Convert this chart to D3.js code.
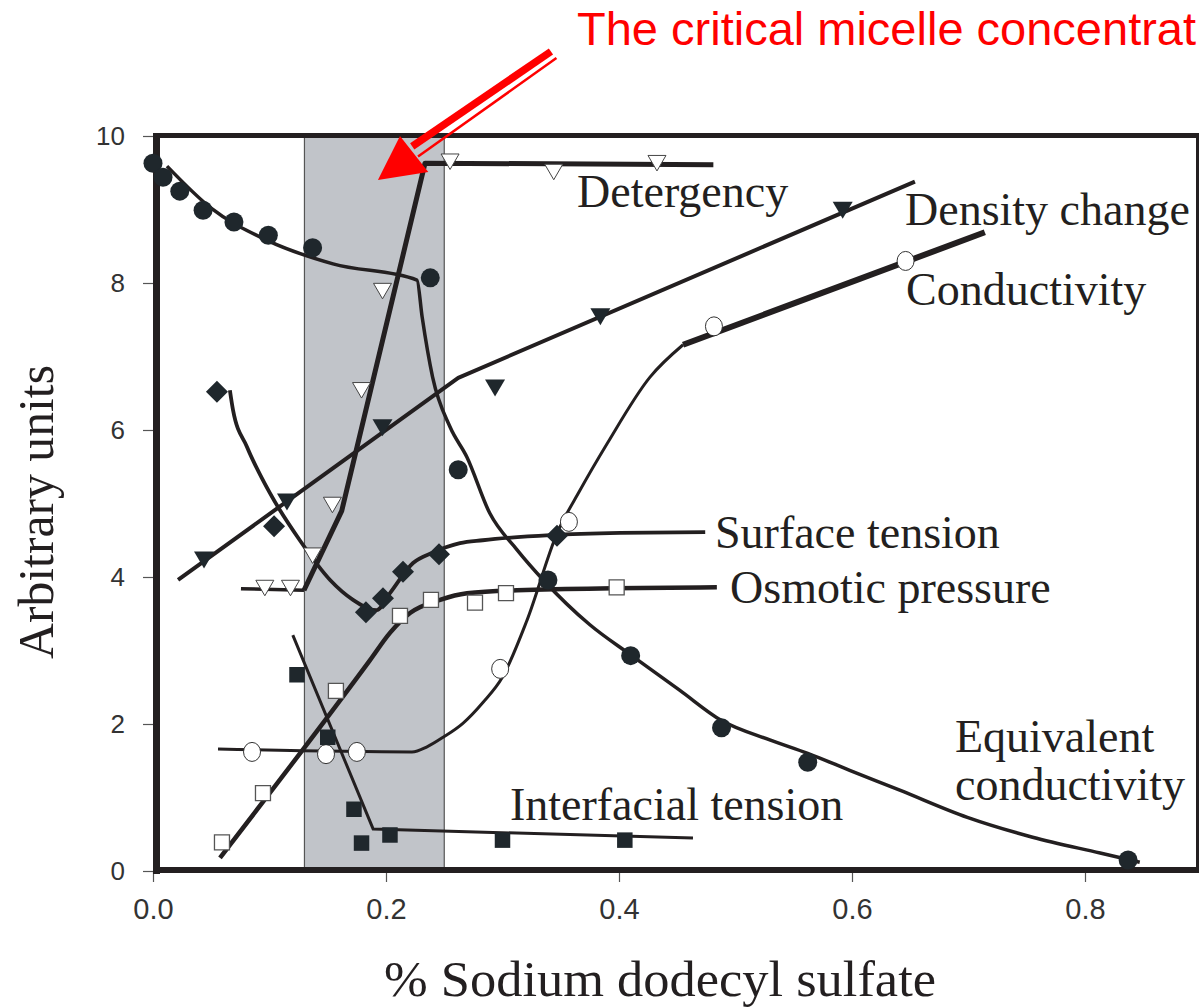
<!DOCTYPE html>
<html><head><meta charset="utf-8">
<script src="https://cdn.jsdelivr.net/npm/d3@7"></script>
<style>html,body{margin:0;padding:0;background:#fff;overflow:hidden}</style>
</head><body><svg id="c" width="1201" height="1008"></svg>
<script>
// ---------- data ----------
const xTicks = [0, 0.2, 0.4, 0.6, 0.8];
const yTicks = [0, 2, 4, 6, 8, 10];
const cmcBand = [0.13, 0.25];

const eqCondPts = [[0,9.63],[0.0086,9.44],[0.023,9.25],[0.043,8.99],[0.0695,8.83],[0.099,8.65],[0.137,8.48],[0.238,8.07],[0.262,5.46],[0.339,3.96],[0.41,2.93],[0.488,1.95],[0.562,1.48],[0.837,0.15]];
const eqCondLine = [[0.012,9.59],[0.049,9.03],[0.098,8.58],[0.1545,8.26],[0.2266,8.04],[0.231,7.54],[0.240,6.72],[0.255,6.04],[0.2695,5.63],[0.289,4.87],[0.3125,4.37],[0.335,3.96],[0.375,3.35],[0.41,2.94],[0.452,2.46],[0.4876,2.05],[0.53,1.78],[0.562,1.6],[0.598,1.37],[0.641,1.10],[0.699,0.73],[0.755,0.46],[0.813,0.245],[0.847,0.12]];

const densPts = [[0.0438,4.23],[0.115,5.02],[0.197,6.03],[0.2936,6.57],[0.384,7.54],[0.592,8.99]];
const densLine = [[0.0215,3.96],[0.262,6.71],[0.654,9.38]];

const condPts = [[0.085,1.62],[0.1485,1.59],[0.175,1.62],[0.298,2.75],[0.357,4.75],[0.4815,7.41],[0.646,8.30]];
const condLine = [[0.0558,1.66],[0.2223,1.62],[0.2352,1.69],[0.249,1.82],[0.266,2.01],[0.283,2.29],[0.300,2.64],[0.321,3.41],[0.347,4.60],[0.3665,5.18],[0.390,5.82],[0.4266,6.72],[0.455,7.16]];
const condLineHigh = [[0.455,7.16],[0.714,8.69]];

const detPts = [[0.096,3.85],[0.118,3.85],[0.137,4.29],[0.154,4.98],[0.179,6.54],[0.197,7.89],[0.255,9.65],[0.344,9.51],[0.4326,9.63]];
const detLineFlat = [[0.0755,3.84],[0.1296,3.82]];
const detLine = [[0.1296,3.82],[0.162,4.9],[0.2335,9.63],[0.481,9.61]];

const stPts = [[0.0549,6.52],[0.1039,4.69],[0.1828,3.52],[0.1974,3.71],[0.2146,4.07],[0.2455,4.31],[0.3468,4.56]];
const stLine = [[0.066,6.54],[0.0687,6.27],[0.0807,5.77],[0.1004,5.14],[0.126,4.50],[0.152,3.96],[0.1717,3.69],[0.192,3.55],[0.2034,3.78],[0.2232,4.19],[0.240,4.33],[0.2635,4.46],[0.283,4.50],[0.341,4.57],[0.401,4.60],[0.474,4.61]];

const opPts = [[0.0592,0.39],[0.0944,1.06],[0.157,2.45],[0.212,3.47],[0.2386,3.69],[0.2764,3.65],[0.303,3.78],[0.398,3.86]];
const opLine = [[0.0575,0.18],[0.1863,2.87],[0.2034,3.24],[0.2206,3.51],[0.2464,3.69],[0.2695,3.78],[0.3124,3.82],[0.484,3.86]];

const itPts = [[0.1236,2.67],[0.150,1.82],[0.1725,0.84],[0.179,0.38],[0.2034,0.49],[0.300,0.42],[0.405,0.42]];
const itLine = [[0.120,3.21],[0.189,0.57],[0.4635,0.45]];

const seriesLabels = ["Detergency","Density change","Conductivity","Surface tension","Osmotic pressure","Equivalent","conductivity","Interfacial tension"];
const labelAnchors = [[0.364,9.03],[0.6455,8.79],[0.6464,7.70],[0.4824,4.39],[0.4953,3.65],[0.6884,1.62],[0.6884,0.97],[0.3064,0.69]];

const titleText = "The critical micelle concentrat";
const xTitle = "% Sodium dodecyl sulfate";
const yTitle = "Arbitrary units";

// ---------- drawing ----------
const svg = d3.select("#c");
const x = d3.scaleLinear().domain([0, 0.8]).range([153, 1085]);
const y = d3.scaleLinear().domain([0, 10]).range([871, 136]);
const ink = "#231f20";
const markFill = "#1f272c";
const serif = "'Liberation Serif','Times New Roman',serif";
const sans = "'Liberation Sans',Arial,sans-serif";

// band
svg.append("rect")
  .attr("x", x(cmcBand[0])).attr("y", y(10))
  .attr("width", x(cmcBand[1]) - x(cmcBand[0])).attr("height", y(0) - y(10))
  .attr("fill", "#c1c4c9").attr("stroke", "#555").attr("stroke-width", 1.2);

// axes
const yAx = svg.append("g").attr("transform", "translate(157,0)")
  .call(d3.axisLeft(y).tickValues(yTicks).tickSize(14).tickPadding(18).tickFormat(d3.format("d")));
const xAx = svg.append("g").attr("transform", "translate(0,872)")
  .call(d3.axisBottom(x).tickValues(xTicks).tickSize(10).tickPadding(16).tickFormat(d3.format(".1f")));
[yAx, xAx].forEach(g => {
  g.select(".domain").remove();
  g.selectAll(".tick line").attr("stroke", "#555").attr("stroke-width", 1.2);
  g.selectAll(".tick text").attr("fill", "#333").style("font-family", sans);
});
yAx.selectAll(".tick text").style("font-size", "26px");
xAx.selectAll(".tick text").style("font-size", "29px");

// frame
const fr = svg.append("g").attr("stroke", ink).attr("fill", "none");
fr.append("line").attr("x1", 153).attr("x2", 1199).attr("y1", 135.5).attr("y2", 135.5).attr("stroke-width", 5);
fr.append("line").attr("x1", 156.5).attr("x2", 156.5).attr("y1", 133).attr("y2", 874).attr("stroke-width", 7);
fr.append("line").attr("x1", 153).attr("x2", 1199).attr("y1", 870).attr("y2", 870).attr("stroke-width", 6);
fr.append("line").attr("x1", 1197.5).attr("x2", 1197.5).attr("y1", 133).attr("y2", 873).attr("stroke-width", 3);

// lines
const lin = d3.line().x(d => x(d[0])).y(d => y(d[1]));
const smooth = d3.line().x(d => x(d[0])).y(d => y(d[1])).curve(d3.curveMonotoneX);
function path(data, gen, w) {
  svg.append("path").datum(data).attr("d", gen).attr("fill", "none")
    .attr("stroke", ink).attr("stroke-width", w).attr("stroke-linejoin", "round");
}
path(eqCondLine, smooth, 3.5);
path(densLine, lin, 4);
path(condLine, smooth, 3);
path(condLineHigh, lin, 6);
path(detLineFlat, lin, 3.5);
path(detLine, lin, 5);
path(stLine, smooth, 3.8);
path(opLine, smooth, 4.5);
path(itLine, lin, 3);

// markers
function marks(data, d, fill, stroke, sw) {
  svg.append("g").selectAll("path").data(data).join("path")
    .attr("transform", p => `translate(${x(p[0])},${y(p[1])})`)
    .attr("d", d).attr("fill", fill).attr("stroke", stroke).attr("stroke-width", sw);
}
const ell = (rx, ry) => `M${-rx},0A${rx},${ry} 0 1,0 ${rx},0A${rx},${ry} 0 1,0 ${-rx},0Z`;
const tri = (w, h) => `M${-w/2},${-h/2}L${w/2},${-h/2}L0,${h/2}Z`;
const sq = s => `M${-s/2},${-s/2}h${s}v${s}h${-s}Z`;
const dia = r => `M0,${-r}L${r},0L0,${r}L${-r},0Z`;

marks(eqCondPts, ell(9.5, 9.5), markFill, "none", 0);
marks(densPts, tri(20, 17), markFill, "none", 0);
marks(condPts, ell(8.5, 9.5), "#fff", "#333", 1);
marks(detPts, tri(18, 15.5), "#fff", "#444", 1);
marks(stPts, dia(11), markFill, "none", 0);
marks(opPts, sq(15), "#fff", "#555", 1.3);
marks(itPts, sq(15.5), markFill, "none", 0);

// series labels
svg.append("g").selectAll("text").data(seriesLabels).join("text")
  .attr("x", (t, i) => x(labelAnchors[i][0])).attr("y", (t, i) => y(labelAnchors[i][1]))
  .attr("fill", ink).style("font-family", serif).style("font-size", "46px").text(t => t);

// axis titles
svg.append("text").attr("x", 660).attr("y", 996).attr("text-anchor", "middle")
  .attr("textLength", 552).attr("lengthAdjust", "spacingAndGlyphs")
  .attr("fill", ink).style("font-family", serif).style("font-size", "50px").text(xTitle);
svg.append("text").attr("transform", "translate(53,512) rotate(-90)").attr("text-anchor", "middle")
  .attr("textLength", 294).attr("lengthAdjust", "spacingAndGlyphs")
  .attr("fill", ink).style("font-family", serif).style("font-size", "50px").text(yTitle);

// red annotation
svg.append("text").attr("x", 577).attr("y", 45).attr("fill", "#ff0000")
  .style("font-family", sans).style("font-size", "47px").text(titleText);
const red = "#ff0000";
svg.append("line").attr("x1", x(0.3416)).attr("y1", y(11.15)).attr("x2", x(0.2225)).attr("y2", y(9.86))
  .attr("stroke", red).attr("stroke-width", 7.5);
svg.append("line").attr("x1", x(0.3463)).attr("y1", y(11.06)).attr("x2", x(0.2275)).attr("y2", y(9.72))
  .attr("stroke", red).attr("stroke-width", 2.5);
svg.append("path").attr("d", lin([[0.1931,9.40],[0.2120,10.0],[0.2363,9.51]]) + "Z").attr("fill", red);
</script></body></html>
